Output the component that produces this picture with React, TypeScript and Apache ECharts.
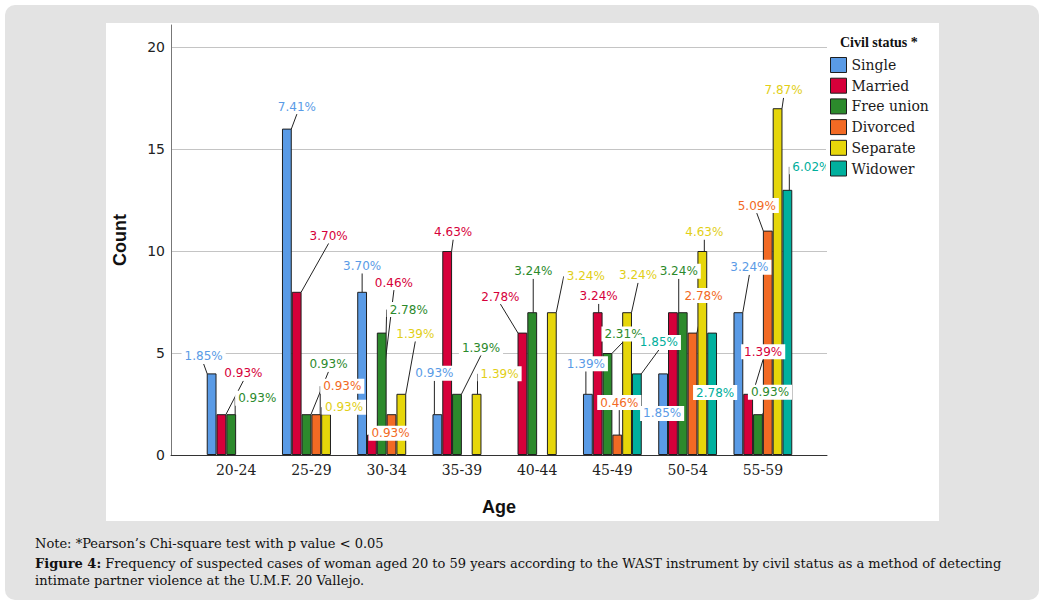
import React, { useEffect, useRef } from "react";
import * as echarts from "echarts";

const categories = ["20-24", "25-29", "30-34", "35-39", "40-44", "45-49", "50-54", "55-59"];
const seriesNames = ["Single", "Married", "Free union", "Divorced", "Separate", "Widower"];
const single = [4, 16, 8, 2, 0, 3, 4, 7];
const married = [2, 8, 1, 10, 6, 7, 7, 3];
const freeUnion = [2, 2, 6, 3, 7, 5, 7, 2];
const divorced = [0, 2, 2, 0, 0, 1, 6, 11];
const separate = [0, 2, 3, 3, 7, 7, 10, 17];
const widower = [0, 0, 0, 0, 0, 4, 6, 13];
const yTicks = [0, 5, 10, 15, 20];
const totalCount = 216;
// labels not shown in the reference: [seriesIndex, categoryIndex]
const hiddenLabels = [[1, 6]];

const barColors = ["#5A9BE6", "#D6003A", "#2C8A2C", "#F26A24", "#E6D60A", "#00B09E"];
const labelColors = ["#5A9BE6", "#D6003A", "#2C8A2C", "#F26A24", "#E2CF17", "#00AE9C"];

// label centre offsets relative to bar top-centre (layout only)
const labelOffsets: (number[] | null)[][] = [
  [[-8, -17], [10, -22], [0, -26], [-3, -41], null, [-2, -30], [-1, 40], [11, -45]],
  [[22, -41], [32, -56], [22, -152], [6, -19], [-22, -36], [1, -16], null, [15, -42]],
  [[26, -16], [22, -50], [27, -23], [24, -46], [1, -41], [16, -19], [-4, -41], [12, -22]],
  [null, [26, -28], [-1, 19], null, null, [2, -32], [11, -37], [-11, -25]],
  [null, [18, -7], [14, -60], [23, -20], [34, -36], [11, -37], [2, -19], [6, -18]],
  [null, null, null, null, null, [22, -31], [3, 60], [24, -23]],
];

const seriesValues = [single, married, freeUnion, divorced, separate, widower];

export default function App() {
  const ref = useRef<HTMLDivElement>(null);
  useEffect(() => {
    if (!ref.current) return;
    const chart = echarts.init(ref.current, null, { renderer: "svg" });
    const isHidden = (s: number, c: number) => hiddenLabels.some((h) => h[0] === s && h[1] === c);

    const series = seriesValues.map((vals, s) => ({
      name: seriesNames[s],
      type: "bar",
      xAxisIndex: 1,
      yAxisIndex: 1,
      barWidth: 9.8,
      barGap: "0%",
      itemStyle: { color: barColors[s], borderColor: "#1e1e1e", borderWidth: 1 },
      label: {
        show: true,
        position: "top",
        fontFamily: "DejaVu Sans",
        fontSize: 12,
        color: labelColors[s],
        backgroundColor: "#ffffff",
        padding: [2, 3, 1, 3],
        formatter: (p: any) => ((p.value / totalCount) * 100).toFixed(2) + "%",
      },
      labelLine: { show: true, lineStyle: { color: "#222", width: 1 } },
      labelLayout: (p: any) => {
        const o = labelOffsets[s][p.dataIndex];
        if (!o) return {};
        return {
          x: p.rect.x + p.rect.width / 2 + o[0],
          y: p.rect.y + o[1],
          align: "center",
          verticalAlign: "middle",
          hideOverlap: false,
        };
      },
      data: vals.map((v, c) =>
        v > 0 ? { value: v, label: { show: !isHidden(s, c) } } : "-"
      ),
    }));

    chart.setOption({
      animation: false,
      title: {
        text: "Civil status *",
        left: 840,
        top: 35,
        padding: 0,
        textStyle: { fontFamily: "Liberation Serif", fontWeight: "bold", fontSize: 14, color: "#111" },
      },
      legend: {
        orient: "vertical",
        left: 826,
        top: 53,
        padding: 4,
        z: 20,
        itemWidth: 16,
        itemHeight: 15,
        itemGap: 4.7,
        icon: "rect",
        backgroundColor: "#ffffff",
        itemStyle: { borderColor: "#1e1e1e", borderWidth: 1 },
        textStyle: { fontFamily: "DejaVu Serif", fontSize: 14, color: "#1a1a1a" },
        data: seriesNames,
      },
      graphic: [
        { type: "rect", z: -10, shape: { x: 0, y: 0, width: 1045, height: 609 }, style: { fill: "#ffffff" } },
        { type: "rect", z: -9, shape: { x: 5, y: 5, width: 1034, height: 595, r: 10 }, style: { fill: "#e3e3e3" } },
        { type: "rect", z: -8, shape: { x: 106, y: 23, width: 833, height: 498 }, style: { fill: "#ffffff" } },
        {
          type: "text",
          left: 35,
          top: 537,
          style: {
            text: "Note: *Pearson\u2019s Chi-square test with p value < 0.05",
            font: "13px 'DejaVu Serif'",
            fill: "#111",
          },
        },
        {
          type: "text",
          left: 35,
          top: 557,
          style: {
            text: "{b|Figure 4:} Frequency of suspected cases of woman aged 20 to 59 years according to the WAST instrument by civil status as a method of detecting",
            font: "13px 'DejaVu Serif'",
            fill: "#111",
            rich: { b: { fontWeight: "bold", fontFamily: "DejaVu Serif", fontSize: 13, fill: "#111" } },
          },
        },
        {
          type: "text",
          left: 35,
          top: 574,
          style: {
            text: "intimate partner violence at the U.M.F. 20 Vallejo.",
            font: "13px 'DejaVu Serif'",
            fill: "#111",
          },
        },
      ],
      grid: [
        { left: 171, top: 25, width: 656, height: 430 },
        { left: 198.5, top: 25, width: 602, height: 430 },
      ],
      xAxis: [
        {
          type: "value",
          gridIndex: 0,
          min: 0,
          max: 1,
          name: "Age",
          nameLocation: "middle",
          nameGap: 43,
          nameTextStyle: { fontFamily: "Liberation Sans", fontWeight: "bold", fontSize: 18, color: "#111" },
          axisLine: { show: true, lineStyle: { color: "#333", width: 1 } },
          axisTick: { show: false },
          axisLabel: { show: false },
          splitLine: { show: false },
        },
        {
          type: "category",
          gridIndex: 1,
          data: categories,
          axisLine: { show: false },
          axisTick: { show: false },
          axisLabel: { fontFamily: "DejaVu Serif", fontSize: 14, color: "#222", margin: 8 },
        },
      ],
      yAxis: [
        {
          type: "value",
          gridIndex: 0,
          min: 0,
          max: 21.08,
          interval: 5,
          name: "Count",
          nameLocation: "middle",
          nameGap: 42,
          nameTextStyle: { fontFamily: "Liberation Sans", fontWeight: "bold", fontSize: 18, color: "#111" },
          axisLine: { show: true, lineStyle: { color: "#777", width: 1 } },
          axisTick: { show: false },
          axisLabel: {
            fontFamily: "DejaVu Sans",
            fontSize: 14,
            color: "#222",
            margin: 6,
            showMaxLabel: false,
            formatter: (v: number) => (yTicks.includes(v) ? String(v) : ""),
          },
          splitLine: { show: true, showMaxLine: false, lineStyle: { color: "#c4c4c4", width: 1 } },
        },
        {
          type: "value",
          gridIndex: 1,
          min: 0,
          max: 21.08,
          interval: 5,
          show: false,
          splitLine: { show: false },
        },
      ],
      series,
    });
    return () => chart.dispose();
  }, []);
  return <div ref={ref} style={{ position: "absolute", left: 0, top: 0, width: 1045, height: 609 }} />;
}
